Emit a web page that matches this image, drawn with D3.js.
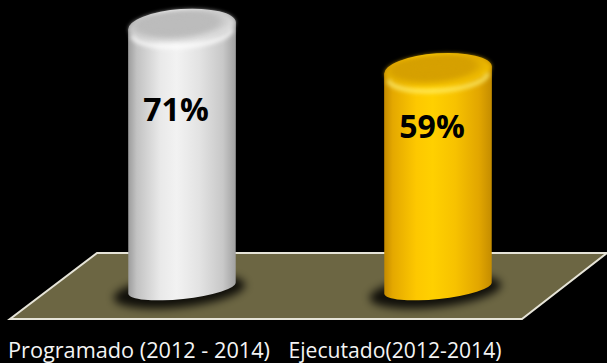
<!DOCTYPE html>
<html>
<head>
<meta charset="utf-8">
<script src="https://cdn.jsdelivr.net/npm/d3@7"></script>
<style>
  html, body { margin: 0; padding: 0; background: #000; }
  svg { display: block; }
</style>
</head>
<body>
<svg id="chart" width="607" height="363"></svg>
<script>
// ---- data ----
const categories = ["Programado (2012 - 2014)", "Ejecutado(2012-2014)"];
const values = [71, 59];
const valueLabels = ["71%", "59%"];

// ---- styles ----
const palettes = [
  { body: ["#9c9c9c", "#c2c2c2", "#e9e9e9", "#f2f2f2", "#e3e3e3", "#c8c8c8", "#a0a0a0"],
    topInner: "#bcbcbc", topOuter: "#e4e4e4", glow: "#ffffff" },
  { body: ["#c48a00", "#e4a800", "#fdc800", "#ffd000", "#f7c200", "#e2a600", "#c48c00"],
    topInner: "#d6a000", topOuter: "#f6c400", glow: "#fff070" }
];

const W = 607, H = 363;
const svg = d3.select("#chart");
svg.append("rect").attr("width", W).attr("height", H).attr("fill", "#000");

const defs = svg.append("defs");
const blur = (id, sd) => defs.append("filter").attr("id", id)
  .attr("x", "-50%").attr("y", "-50%").attr("width", "200%").attr("height", "200%")
  .append("feGaussianBlur").attr("stdDeviation", sd);
blur("shadowBlur", 4.5);
blur("softBlur", 2);
blur("innerBlur", 3);

// scales
const x = d3.scalePoint().domain(categories).range([182, 438]);
const y = d3.scaleLinear().domain([0, 100]).range([288, -81]);
const baseY = y(0);
const rx = 54, ryTop = 17, ryBot = 11;
const rotTop = -4, rotBot = -6;

// floor
const floor = [[97, 253], [607, 253], [522, 319], [10, 319]];
svg.append("path")
  .attr("d", d3.line()(floor) + "Z")
  .attr("fill", "#6c6643")
  .attr("stroke", "#e6e4d8")
  .attr("stroke-width", 2)
  .attr("stroke-linejoin", "miter");

// gradients
palettes.forEach((p, i) => {
  const g = defs.append("linearGradient").attr("id", "body" + i)
    .attr("x1", "0").attr("x2", "1").attr("y1", "0").attr("y2", "0");
  const offs = [0, 0.08, 0.3, 0.45, 0.66, 0.88, 1];
  p.body.forEach((c, k) => g.append("stop").attr("offset", offs[k]).attr("stop-color", c));
  const r = defs.append("radialGradient").attr("id", "top" + i)
    .attr("cx", "0.45").attr("cy", "0.4").attr("r", "0.6");
  r.append("stop").attr("offset", 0).attr("stop-color", p.topInner);
  r.append("stop").attr("offset", 0.6).attr("stop-color", p.topInner);
  r.append("stop").attr("offset", 1).attr("stop-color", p.topOuter);
});

const ends = rot => {
  const a = rot * Math.PI / 180;
  return [rx * Math.cos(a), rx * Math.sin(a)];
};
const [exT, eyT] = ends(rotTop);
const [exB, eyB] = ends(rotBot);

categories.forEach((cat, i) => {
  const cx = x(cat);
  const top = y(values[i]);
  const g = svg.append("g");

  // shadow on floor
  g.append("ellipse")
    .attr("cx", cx - 3).attr("cy", baseY + 3)
    .attr("rx", rx + 12).attr("ry", ryBot + 5)
    .attr("transform", `rotate(${rotBot},${cx},${baseY})`)
    .attr("fill", "#000").attr("opacity", 0.85)
    .attr("filter", "url(#shadowBlur)");

  // body: top ellipse upper arc + sides + bottom arc
  const d = `M${cx - exT},${top - eyT} ` +
    `A${rx},${ryTop} ${rotTop} 0 1 ${cx + exT},${top + eyT} ` +
    `L${cx + exB},${baseY + eyB} ` +
    `A${rx},${ryBot} ${rotBot} 0 1 ${cx - exB},${baseY - eyB} Z`;
  g.append("path").attr("d", d).attr("fill", `url(#body${i})`);

  // top face
  g.append("ellipse")
    .attr("cx", cx).attr("cy", top)
    .attr("rx", rx - 1).attr("ry", ryTop - 1)
    .attr("transform", `rotate(${rotTop},${cx},${top})`)
    .attr("fill", `url(#top${i})`)
    .attr("filter", "url(#softBlur)");
  g.append("ellipse")
    .attr("cx", cx - 2).attr("cy", top - 2)
    .attr("rx", rx - 14).attr("ry", ryTop - 8)
    .attr("transform", `rotate(${rotTop},${cx},${top})`)
    .attr("fill", palettes[i].topInner).attr("opacity", 0.7)
    .attr("filter", "url(#innerBlur)");

  // highlight rim along front edge of the top
  const hy = top + 6, k = 0.92;
  g.append("path")
    .attr("d", `M${cx - exT * k},${hy - eyT * k} A${rx * k},${ryTop * 0.85} ${rotTop} 0 0 ${cx + exT * k},${hy + eyT * k}`)
    .attr("fill", "none")
    .attr("stroke", palettes[i].glow)
    .attr("stroke-width", 4)
    .attr("opacity", 0.85)
    .attr("filter", "url(#softBlur)");

  // value label
  const ly = top + (182 - top) * 0.61;
  g.append("text")
    .attr("x", cx - 6).attr("y", ly)
    .attr("text-anchor", "middle")
    .attr("font-family", "'Open Sans', 'Noto Sans', sans-serif")
    .attr("font-weight", "bold")
    .attr("font-size", 32)
    .attr("fill", "#000")
    .text(valueLabels[i]);
});

// category labels
const labelWidths = [262, 213];
categories.forEach((cat, i) => {
  svg.append("text")
    .attr("x", x(cat) - 43).attr("y", 358)
    .attr("text-anchor", "middle")
    .attr("font-family", "'Open Sans', 'Noto Sans', sans-serif")
    .attr("font-size", 21)
    .attr("fill", "#f4f4f4")
    .attr("textLength", labelWidths[i])
    .attr("lengthAdjust", "spacingAndGlyphs")
    .text(cat);
});
</script>
</body>
</html>
